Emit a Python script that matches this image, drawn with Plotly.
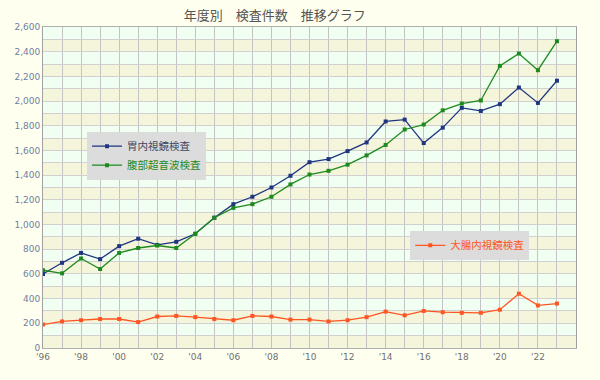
import plotly.graph_objects as go

years = list(range(1996, 2024))
gastro = [600, 690, 770, 720, 825, 885, 835, 860, 925, 1055, 1165, 1225, 1300, 1395,
          1505, 1530, 1595, 1665, 1835, 1850, 1660, 1785, 1945, 1920, 1975, 2110, 1985, 2165]
abdom = [630, 605, 725, 640, 770, 810, 830, 810, 925, 1055, 1135, 1165, 1225, 1325,
         1405, 1435, 1485, 1560, 1645, 1770, 1810, 1925, 1980, 2005, 2285, 2385, 2250, 2485]
colon = [190, 215, 225, 235, 235, 210, 255, 260, 250, 235, 225, 260, 255, 230,
         230, 215, 225, 250, 295, 265, 300, 290, 285, 285, 310, 440, 345, 360]
names = ["胃内視鏡検査", "腹部超音波検査", "大腸内視鏡検査"]
title_text = "年度別　検査件数　推移グラフ"

x_tickvals = list(range(1996, 2025))
x_ticktext = [("'%02d" % (y % 100)) if (y % 2 == 0 and y < 2024) else "" for y in x_tickvals]
y_tickvals = list(range(0, 2700, 100))
y_ticktext = [f"{v:,}" if v % 200 == 0 else "" for v in y_tickvals]

colors = ["#1f3580", "#1e8a1e", "#ff5522"]
text_colors = ["#404860", "#1e8a1e", "#ff5522"]

fig = go.Figure()
series = [gastro, abdom, colon]
legends = ["legend", "legend", "legend2"]
for vals, nm, c, tc, lg in zip(series, names, colors, text_colors, legends):
    fig.add_trace(go.Scatter(
        x=years, y=vals, mode="lines+markers",
        name=f"<span style='color:{tc}'>{nm}</span>",
        line=dict(color=c, width=1.3),
        marker=dict(color=c, size=4, symbol="square"),
        legend=lg,
    ))

shapes = []
for k in range(0, 26):
    if k % 2 == 0:
        shapes.append(dict(type="rect", xref="paper", yref="y", x0=0, x1=1,
                           y0=k * 100, y1=(k + 1) * 100, fillcolor="#f5f5dc",
                           line=dict(width=0), layer="below"))

fig.update_layout(
    width=600, height=380,
    margin=dict(l=43, r=24, t=27, b=32),
    paper_bgcolor="#fffff0",
    plot_bgcolor="#f0fff2",
    shapes=shapes,
    title=dict(text=title_text, x=0.458, xanchor="center", y=1 - 15 / 380, yanchor="middle",
               font=dict(family="Noto Sans CJK JP", size=13, color="#555555")),
    font=dict(family="DejaVu Sans", size=9, color="#707070"),
    showlegend=True,
    legend=dict(x=0.0826, y=0.674, xanchor="left", yanchor="top",
                bgcolor="#dcdcdc", borderwidth=0,
                font=dict(family="Noto Sans CJK JP", size=10.5),
                tracegroupgap=0, itemwidth=30),
    legend2=dict(x=0.689, y=0.365, xanchor="left", yanchor="top",
                 bgcolor="#dcdcdc", borderwidth=0,
                 font=dict(family="Noto Sans CJK JP", size=10.5),
                 itemwidth=30),
)
fig.update_xaxes(range=[1996, 2024], tickmode="array", tickvals=x_tickvals, ticktext=x_ticktext,
                 showgrid=True, gridcolor="#c4c4c4", gridwidth=1, zeroline=False,
                 showline=True, linecolor="#b0b0b0", linewidth=1, mirror=True,
                 tickfont=dict(family="DejaVu Sans", size=9, color="#707070"))
fig.update_yaxes(range=[0, 2600], tickmode="array", tickvals=y_tickvals, ticktext=y_ticktext,
                 showgrid=True, gridcolor="#d0d0d0", gridwidth=1, zeroline=False,
                 showline=True, linecolor="#a0a0a0", linewidth=1, mirror=True,
                 tickfont=dict(family="DejaVu Sans", size=9, color="#7080a0"))

fig.write_html("out.html", config={"displayModeBar": False},
               post_script="document.body.style.margin='0px';document.body.style.background='#fffff0';")
